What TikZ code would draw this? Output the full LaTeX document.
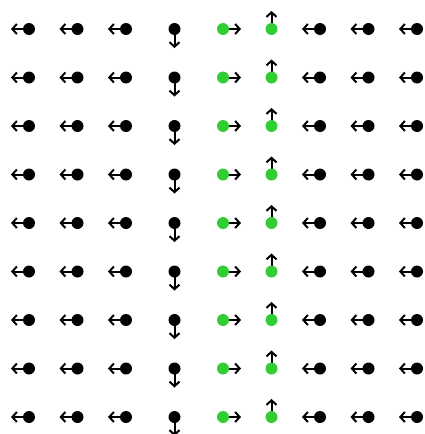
\documentclass[tikz,border=0pt]{standalone}
\usepackage{xcolor}
\usepackage{tikz}
\usetikzlibrary{arrows.meta}

\definecolor{fieldgreen}{RGB}{50,205,50}

\begin{document}
\begin{tikzpicture}[
        x=1pt, y=-1pt,
        dot/.style={circle, fill=black, inner sep=0pt, minimum size=12pt},
        hotdot/.style={dot, fill=fieldgreen},
        arrow/.style={-{Straight Barb[length=4.5pt, width=10pt]}, line width=2pt}
        ]
        \useasboundingbox (0,0) rectangle (425,434);
        \foreach \r in {1,...,9} {
            \foreach \c in {1,...,9} {
                % pick style and direction of each cell
                \ifnum\c=4
                    \def\dx{0}\def\dy{19}\def\kind{dot}
                \else\ifnum\c=5
                    \def\dx{18}\def\dy{0}\def\kind{hotdot}
                \else\ifnum\c=6
                    \def\dx{0}\def\dy{-18}\def\kind{hotdot}
                \else
                    \def\dx{-18}\def\dy{0}\def\kind{dot}
                \fi\fi\fi
                \coordinate (p-\r-\c) at ({29+(\c-1)*48.5}, {29+(\r-1)*48.5});
                \coordinate (e-\r-\c) at ([shift={(\dx,\dy)}]p-\r-\c);
                \draw[arrow] (p-\r-\c) -- (e-\r-\c);
                \node[\kind] (d-\r-\c) at (p-\r-\c) {};
            }
        }
\end{tikzpicture}
\end{document}
